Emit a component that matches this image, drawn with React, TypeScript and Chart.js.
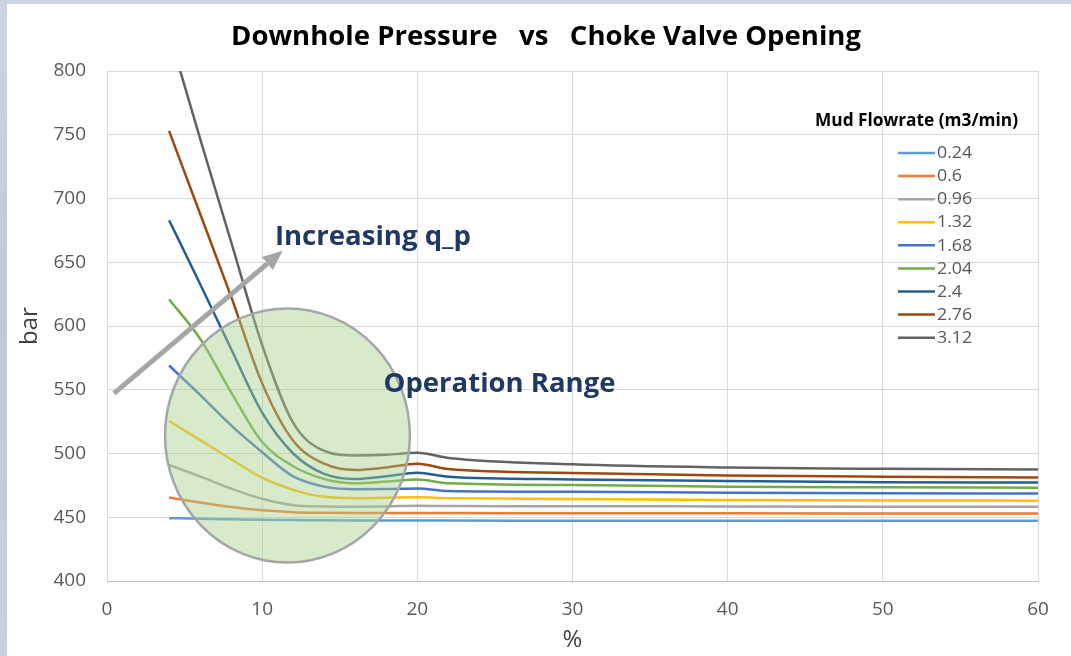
import React, { useEffect, useRef } from 'react';
import { Chart, registerables } from 'chart.js';

Chart.register(...registerables);

// ---------------- data ----------------
const CHART_TITLE = 'Downhole Pressure   vs   Choke Valve Opening';
const X_AXIS_TITLE = '%';
const Y_AXIS_TITLE = 'bar';
const LEGEND_TITLE = 'Mud Flowrate (m3/min)';
const ANNOTATION_ARROW_TEXT = 'Increasing q_p';
const ANNOTATION_REGION_TEXT = 'Operation Range';

const X_MIN = 0;
const X_MAX = 60;
const X_STEP = 10;
const Y_MIN = 400;
const Y_MAX = 800;
const Y_STEP = 50;

// choke valve opening (%)
const CHOKE_OPENING = [4, 6, 8, 10, 12, 14, 16, 18, 20, 22, 30, 40, 50, 60];

const FLOWRATE_LABELS = ['0.24', '0.6', '0.96', '1.32', '1.68', '2.04', '2.4', '2.76', '3.12'];

const P_024 = [449.3, 448.8, 448.4, 448.0, 447.8, 447.6, 447.5, 447.5, 447.5, 447.4, 447.3, 447.3, 447.2, 447.2];
const P_060 = [465.5, 461.5, 458.0, 455.5, 454.0, 453.5, 453.3, 453.3, 453.4, 453.3, 453.2, 453.1, 453.0, 453.0];
const P_096 = [491.0, 482.0, 472.5, 464.5, 459.5, 458.5, 458.3, 458.5, 459.0, 458.8, 458.7, 458.5, 458.3, 458.2];
const P_132 = [525.5, 510.5, 495.5, 481.0, 471.5, 466.0, 465.0, 465.3, 465.6, 465.0, 464.3, 463.6, 463.2, 463.0];
const P_168 = [569.0, 546.0, 522.0, 501.0, 482.0, 474.0, 472.0, 472.2, 472.6, 470.6, 470.0, 469.3, 468.8, 468.7];
const P_204 = [621.0, 590.0, 548.0, 509.0, 490.0, 480.0, 476.6, 478.0, 479.6, 476.6, 475.2, 474.0, 473.5, 473.2];
const P_240 = [683.0, 633.0, 582.0, 532.0, 500.0, 484.0, 480.0, 482.2, 485.0, 481.8, 479.7, 478.4, 477.5, 477.3];
const P_276 = [753.0, 688.0, 623.0, 555.0, 510.0, 492.0, 487.0, 489.0, 492.0, 487.8, 484.8, 482.8, 481.8, 481.2];
const P_312 = [830.0, 747.0, 666.0, 585.0, 524.0, 502.0, 498.5, 499.0, 500.5, 496.5, 491.5, 489.0, 488.0, 487.5];

const SERIES_VALUES = [P_024, P_060, P_096, P_132, P_168, P_204, P_240, P_276, P_312];

const SERIES_COLORS = ['#5B9BD5', '#ED7D31', '#A5A5A5', '#FFC000', '#4472C4', '#70AD47', '#255E91', '#9E480E', '#636363'];

// annotation geometry in data units
const REGION_CENTER = { x: 11.63, y: 514.1 };
const REGION_RADIUS = { x: 7.89, y: 99.6 };
const ARROW_FROM = { x: 0.45, y: 547.1 };
const ARROW_TO = { x: 11.32, y: 659.1 };
const ARROW_TEXT_POS = { x: 10.82, y: 663.5, w: 12.63 };
const REGION_TEXT_POS = { x: 17.82, y: 548.5, w: 14.95 };

// ---------------- helpers ----------------
const FONT = "'Open Sans', 'DejaVu Sans', sans-serif";

function drawFitted(
  ctx: CanvasRenderingContext2D,
  text: string,
  x: number,
  baseline: number,
  width: number,
  font: string,
  color: string,
  align: CanvasTextAlign
) {
  ctx.save();
  ctx.font = font;
  const w = ctx.measureText(text).width;
  const s = width / w;
  ctx.translate(x, baseline);
  ctx.scale(s, 1);
  ctx.textAlign = align;
  ctx.textBaseline = 'alphabetic';
  ctx.fillStyle = color;
  ctx.fillText(text, 0, 0);
  ctx.restore();
}

const backgroundPlugin = {
  id: 'pageBackground',
  beforeDraw(chart: any) {
    const { ctx, width, height } = chart;
    ctx.save();
    const g = ctx.createLinearGradient(0, 0, 0, height);
    g.addColorStop(0, '#cdd4e4');
    g.addColorStop(0.5, '#bfc8dc');
    g.addColorStop(1, '#c9d0e2');
    ctx.fillStyle = g;
    ctx.fillRect(0, 0, width, height);
    ctx.fillStyle = '#ffffff';
    ctx.fillRect(7, 4, width - 7, height - 4);
    ctx.restore();
  },
};

const titlePlugin = {
  id: 'chartTitleFitted',
  afterDraw(chart: any) {
    const { ctx } = chart;
    drawFitted(ctx, CHART_TITLE, 546, 44.5, 630, `bold 27px ${FONT}`, '#000000', 'center');
  },
};

const annotationPlugin = {
  id: 'operationRange',
  afterDatasetsDraw(chart: any) {
    const { ctx } = chart;
    const xs = chart.scales.x;
    const ys = chart.scales.y;
    const cx = xs.getPixelForValue(REGION_CENTER.x);
    const cy = ys.getPixelForValue(REGION_CENTER.y);
    const rx = xs.getPixelForValue(REGION_CENTER.x + REGION_RADIUS.x) - cx;
    const ry = cy - ys.getPixelForValue(REGION_CENTER.y + REGION_RADIUS.y);

    ctx.save();
    ctx.beginPath();
    ctx.ellipse(cx, cy, rx, ry, 0, 0, Math.PI * 2);
    ctx.fillStyle = 'rgba(169, 209, 142, 0.45)';
    ctx.fill();
    ctx.lineWidth = 2.5;
    ctx.strokeStyle = '#A6A6A6';
    ctx.stroke();

    // arrow
    const x1 = xs.getPixelForValue(ARROW_FROM.x);
    const y1 = ys.getPixelForValue(ARROW_FROM.y);
    const x2 = xs.getPixelForValue(ARROW_TO.x);
    const y2 = ys.getPixelForValue(ARROW_TO.y);
    const ang = Math.atan2(y2 - y1, x2 - x1);
    const headLen = 20;
    const headHalf = 8.5;
    const bx = x2 - headLen * Math.cos(ang);
    const by = y2 - headLen * Math.sin(ang);
    ctx.beginPath();
    ctx.moveTo(x1, y1);
    ctx.lineTo(bx, by);
    ctx.lineWidth = 5;
    ctx.lineCap = 'butt';
    ctx.strokeStyle = '#A6A6A6';
    ctx.stroke();
    ctx.beginPath();
    ctx.moveTo(x2, y2);
    ctx.lineTo(bx + headHalf * Math.sin(ang), by - headHalf * Math.cos(ang));
    ctx.lineTo(bx - headHalf * Math.sin(ang), by + headHalf * Math.cos(ang));
    ctx.closePath();
    ctx.fillStyle = '#A6A6A6';
    ctx.fill();
    ctx.restore();

    const navy = '#1F3864';
    const tx1 = xs.getPixelForValue(ARROW_TEXT_POS.x);
    const tw1 = xs.getPixelForValue(ARROW_TEXT_POS.x + ARROW_TEXT_POS.w) - tx1;
    drawFitted(ctx, ANNOTATION_ARROW_TEXT, tx1, ys.getPixelForValue(ARROW_TEXT_POS.y), tw1, `bold 27px ${FONT}`, navy, 'left');
    const tx2 = xs.getPixelForValue(REGION_TEXT_POS.x);
    const tw2 = xs.getPixelForValue(REGION_TEXT_POS.x + REGION_TEXT_POS.w) - tx2;
    drawFitted(ctx, ANNOTATION_REGION_TEXT, tx2, ys.getPixelForValue(REGION_TEXT_POS.y), tw2, `bold 27px ${FONT}`, navy, 'left');
  },
};

const legendPlugin = {
  id: 'flowrateLegend',
  afterDraw(chart: any) {
    const { ctx } = chart;
    drawFitted(ctx, LEGEND_TITLE, 916.5, 126, 203, `bold 17.5px ${FONT}`, '#000000', 'center');
    const datasets = chart.data.datasets;
    ctx.save();
    ctx.textBaseline = 'middle';
    ctx.textAlign = 'left';
    datasets.forEach((ds: any, i: number) => {
      const y = 153 + i * 23.08;
      ctx.beginPath();
      ctx.moveTo(898, y);
      ctx.lineTo(935, y);
      ctx.lineWidth = 2.5;
      ctx.strokeStyle = ds.borderColor;
      ctx.stroke();
      ctx.save();
      ctx.font = `16.5px ${FONT}`;
      ctx.translate(937, y + 0.5);
      ctx.scale(1.08, 1);
      ctx.fillStyle = '#595959';
      ctx.fillText(ds.label, 0, 0);
      ctx.restore();
    });
    ctx.restore();
  },
};

export default function App() {
  const canvasRef = useRef<HTMLCanvasElement | null>(null);

  useEffect(() => {
    if (!canvasRef.current) return;
    const datasets = FLOWRATE_LABELS.map((label, i) => ({
      label,
      data: CHOKE_OPENING.map((x, j) => ({ x, y: SERIES_VALUES[i][j] })),
      borderColor: SERIES_COLORS[i],
      backgroundColor: SERIES_COLORS[i],
      borderWidth: 2.5,
      pointRadius: 0,
      cubicInterpolationMode: 'monotone',
      fill: false,
    }));

    const chart = new Chart(canvasRef.current, {
      type: 'line',
      data: { datasets },
      plugins: [backgroundPlugin, annotationPlugin, legendPlugin, titlePlugin],
      options: {
        animation: false,
        responsive: false,
        maintainAspectRatio: false,
        devicePixelRatio: 1,
        layout: { padding: { top: 71, right: 33, left: 0, bottom: 0 } },
        plugins: {
          legend: { display: false },
          tooltip: { enabled: false },
          title: { display: false },
        },
        scales: {
          x: {
            type: 'linear',
            min: X_MIN,
            max: X_MAX,
            ticks: { stepSize: X_STEP, color: '#595959', font: { family: FONT, size: 19 }, padding: 17, maxRotation: 0 },
            grid: { color: '#D9D9D9', lineWidth: 1, drawTicks: false },
            border: { color: '#BFBFBF', width: 1 },
            title: { display: true, text: X_AXIS_TITLE, color: '#404040', font: { family: FONT, size: 24 }, padding: { top: 0, bottom: 1 } },
            afterFit(scale: any) {
              scale.height = 75;
            },
          },
          y: {
            type: 'linear',
            min: Y_MIN,
            max: Y_MAX,
            ticks: { stepSize: Y_STEP, color: '#595959', font: { family: FONT, size: 19 }, padding: 21 },
            grid: { color: '#D9D9D9', lineWidth: 1, drawTicks: false },
            border: { color: '#D9D9D9', width: 1 },
            title: { display: true, text: Y_AXIS_TITLE, color: '#404040', font: { family: FONT, size: 24 }, padding: { top: 16, bottom: 0 } },
            afterFit(scale: any) {
              scale.width = 107;
            },
          },
        },
      },
    } as any);

    return () => chart.destroy();
  }, []);

  return (
    <div style={{ position: 'absolute', left: 0, top: 0, width: 1071, height: 656 }}>
      <canvas ref={canvasRef} width={1071} height={656} style={{ display: 'block', width: 1071, height: 656 }} />
    </div>
  );
}
